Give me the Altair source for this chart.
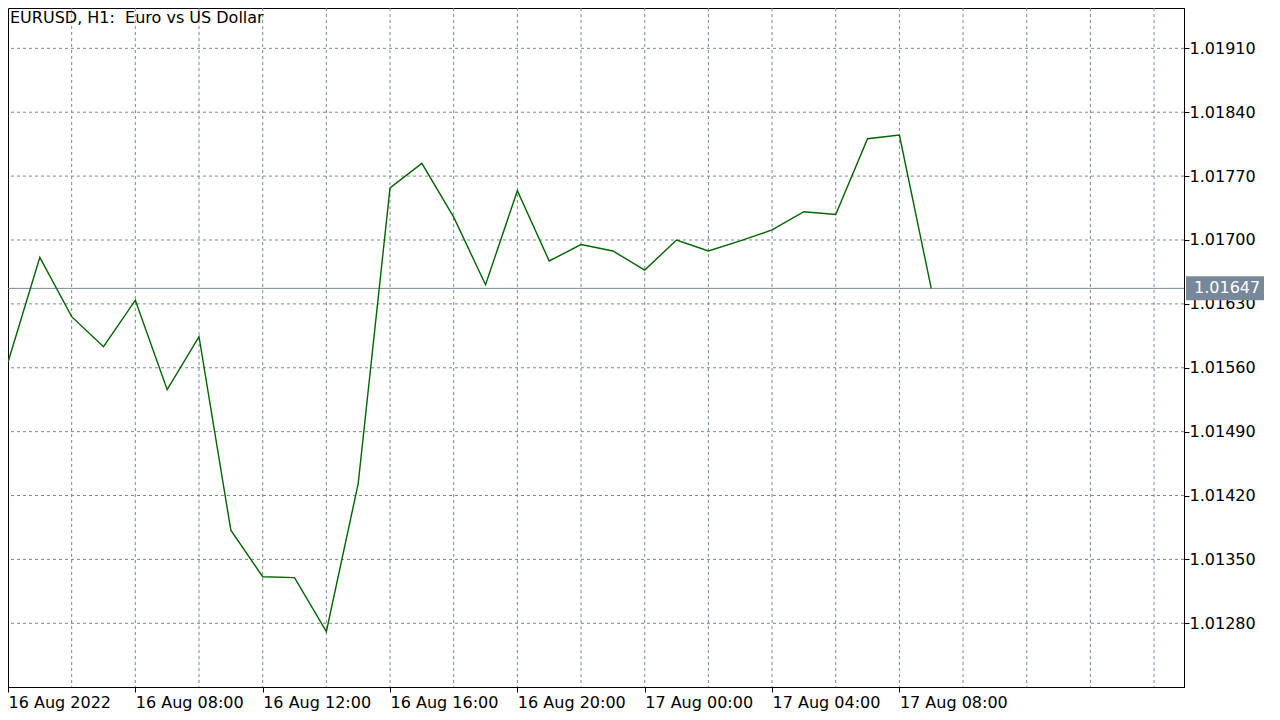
import json
import altair as alt
import pandas as pd

# ---- data ----
hours = list(range(30))  # hourly bars from 16 Aug 2022 04:00
prices = [1.01566, 1.01681, 1.01616, 1.01583, 1.01634, 1.01536, 1.01594, 1.01382,
          1.01331, 1.01330, 1.01271, 1.01433, 1.01757, 1.01784, 1.01725, 1.01651,
          1.01754, 1.01677, 1.01695, 1.01688, 1.01667, 1.01700, 1.01688, 1.01699,
          1.01711, 1.01731, 1.01728, 1.01811, 1.01815, 1.01647]
label_hours = [0, 4, 8, 12, 16, 20, 24, 28]
label_texts = ["16 Aug 2022", "16 Aug 08:00", "16 Aug 12:00", "16 Aug 16:00",
               "16 Aug 20:00", "17 Aug 00:00", "17 Aug 04:00", "17 Aug 08:00"]
grid_hours = list(range(2, 37, 2))
price_ticks = [1.01280, 1.01350, 1.01420, 1.01490, 1.01560, 1.01630,
               1.01700, 1.01770, 1.01840, 1.01910]
last_price = 1.01647
title_text = "EURUSD, H1:\u00a0 Euro vs US Dollar"

X_DOMAIN = [0, 36.94]
Y_DOMAIN = [1.012102, 1.019542]
W, H = 1176, 679
FONT = "DejaVu Sans"
GRID = "#778899"

xs = alt.Scale(domain=X_DOMAIN, nice=False, zero=False)
ys = alt.Scale(domain=Y_DOMAIN, nice=False, zero=False)

label_expr = json.dumps(label_texts) + "[round(datum.value / 4)]"

x_axis = alt.Axis(values=label_hours, labelExpr=label_expr, grid=False,
                  labelAlign="left", labelBaseline="alphabetic",
                  labelPadding=15, tickSize=5, tickColor="black",
                  domainColor="black", labelColor="black",
                  labelFont=FONT, labelFontSize=16, labelOverlap=False,
                  labelFlush=False)
y_axis = alt.Axis(orient="right", values=price_ticks, format=".5f",
                  grid=False, tickSize=5, tickColor="black",
                  domainColor="black", labelColor="black",
                  labelPadding=0, labelFont=FONT, labelFontSize=16,
                  labelOverlap=False, labelFlush=False)


def X(field):
    return alt.X(field, scale=xs, axis=x_axis, title=None)


def Y(field):
    return alt.Y(field, scale=ys, axis=y_axis, title=None)


df = pd.DataFrame({"hour": hours, "price": prices})
last_df = pd.DataFrame({"v": [last_price]})

vgrid = alt.Chart(pd.DataFrame({"h": grid_hours})).mark_rule(
    color=GRID, strokeDash=[3, 3], strokeWidth=1
).encode(x=X("h:Q"))

hgrid = alt.Chart(pd.DataFrame({"p": price_ticks})).mark_rule(
    color=GRID, strokeDash=[3, 3], strokeWidth=1
).encode(y=Y("p:Q"))

price_line = alt.Chart(last_df).mark_rule(color=GRID, strokeWidth=1).encode(
    y=Y("v:Q")
)

line = alt.Chart(df).mark_line(color="#006400", strokeWidth=1.4).encode(
    x=X("hour:Q"), y=Y("price:Q")
)

price_box = alt.Chart(last_df).mark_tick(
    orient="horizontal", size=78, thickness=24, color=GRID, opacity=1
).encode(x=alt.value(1217), y=Y("v:Q"))

price_text = alt.Chart(last_df).mark_text(
    color="white", fontSize=16, font=FONT, align="left", baseline="middle"
).encode(x=alt.value(1186), y=Y("v:Q"), text=alt.Text("v:Q", format=".5f"))

title = alt.Chart(pd.DataFrame({"t": [title_text]})).mark_text(
    color="black", fontSize=16, font=FONT, align="left", baseline="alphabetic"
).encode(x=alt.value(2), y=alt.value(15), text="t:N")

chart = alt.layer(vgrid, hgrid, price_line, line, price_box, price_text, title).properties(
    width=W, height=H,
    autosize=alt.AutoSizeParams(type="none"),
    padding={"left": 0, "top": 0, "right": 88, "bottom": 30},
    background="white",
).configure_view(stroke="black", strokeWidth=1)

chart.save("out.html", embed_options={"renderer": "svg", "actions": False})
